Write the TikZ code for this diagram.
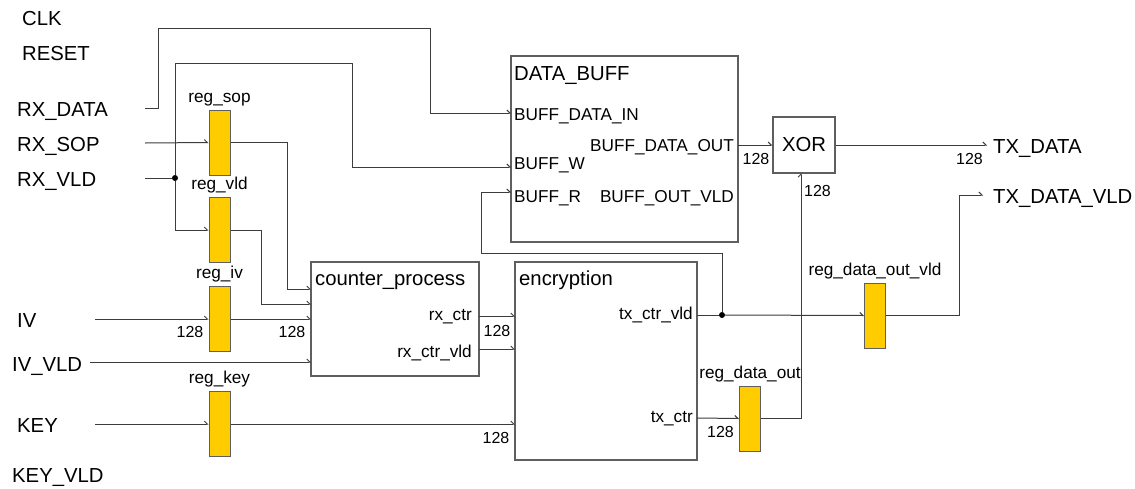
\documentclass[tikz,border=0pt]{standalone}
\usepackage{fontspec}
\setmainfont{Liberation Sans}
\usetikzlibrary{arrows.meta}
\definecolor{regy}{HTML}{FFCC00}
\definecolor{frame}{HTML}{5F5F5F}
\definecolor{wire}{HTML}{3C3C3C}

\begin{document}
\begin{tikzpicture}[x=1pt,y=-1pt,
    sig/.style={font=\fontsize{20.3}{24}\selectfont, inner sep=0pt, anchor=base west},
    port/.style={font=\fontsize{17.2}{20}\selectfont, inner sep=0pt},
    bus/.style={font=\fontsize{16}{19}\selectfont, inner sep=0pt, anchor=base},
    blk/.style={draw=frame, line width=1.2pt, fill=white, inner sep=0pt},
    reg/.style={draw=frame, fill=regy, line width=1pt, minimum width=21pt,
                minimum height=65pt, inner sep=0pt},
    con/.style={draw=wire, line width=1pt, -{Straight Barb[left,length=3pt,width=6pt]}},
    net/.style={draw=wire, line width=1pt},
    dot/.style={circle, fill=black, inner sep=0pt, minimum size=6pt}]
  \useasboundingbox (0,0) rectangle (1135,488);

  % signal names
  \foreach \n/\t/\x/\y in {clk/CLK/22/25, rst/RESET/22/60, rxd/RX\_DATA/17/116,
                            sop/RX\_SOP/17/151, vld/RX\_VLD/17/186, iv/IV/17/327,
                            ivv/IV\_VLD/12/371, key/KEY/17/432, keyv/KEY\_VLD/12/482,
                            txd/TX\_DATA/993/153, txv/TX\_DATA\_VLD/993/203}
    \node[sig] (\n) at (\x,\y) {\t};

  % blocks
  \node[blk, minimum width=227pt, minimum height=186pt] (buff) at (624.5,149) {};
  \node[blk, minimum width=62pt, minimum height=56pt,
        font=\fontsize{20.3}{24}\selectfont] (xor) at (804,145) {XOR};
  \node[blk, minimum width=168pt, minimum height=114pt] (cnt) at (395,319) {};
  \node[blk, minimum width=182pt, minimum height=198pt] (enc) at (606,361) {};
  \node[sig] (buff-t) at (514,80) {DATA\_BUFF};
  \node[sig] (cnt-t) at (315,285) {counter\_process};
  \node[sig] (enc-t) at (519,285) {encryption};

  % port names
  \node[port, anchor=base west] (p-din) at (514,120) {BUFF\_DATA\_IN};
  \node[port, anchor=base west] (p-w) at (514,169) {BUFF\_W};
  \node[port, anchor=base west] (p-r) at (514,202) {BUFF\_R};
  \node[port, anchor=base east] (p-dout) at (734,151) {BUFF\_DATA\_OUT};
  \node[port, anchor=base east] (p-ovld) at (734,202) {BUFF\_OUT\_VLD};
  \node[port, anchor=base east] (p-ctr) at (472,320) {rx\_ctr};
  \node[port, anchor=base east] (p-ctrv) at (472,357) {rx\_ctr\_vld};
  \node[port, anchor=base east] (p-txv) at (693,319) {tx\_ctr\_vld};
  \node[port, anchor=base east] (p-tx) at (693,422) {tx\_ctr};

  % registers
  \foreach \r/\t/\x/\y in {rsop/reg\_sop/219.5/142.5, rvld/reg\_vld/219.5/230,
                            riv/reg\_iv/219.5/319, rkey/reg\_key/219.5/424,
                            rdo/reg\_data\_out/750/418.5, rdov/reg\_data\_out\_vld/875/315.5}
  { \node[reg] (\r) at (\x,\y) {};
    \node[port, anchor=base] (\r-t) at ([yshift=7.5pt]\r.north) {\t}; }

  % bus widths
  \foreach \x/\y [count=\i] in {190/337.5, 292/337, 497/336, 496/443,
                                 720.5/437, 756/164, 817.5/196, 969.5/164}
    \node[bus] (w\i) at (\x,\y) {128};

  % wire ends
  \coordinate (rxd-w) at (145,108);
  \coordinate (sop-w) at (145,143);
  \coordinate (vld-w) at (145,178);
  \coordinate (iv-w) at (95,319);
  \coordinate (ivv-w) at (90,362);
  \coordinate (key-w) at (95,424);
  \coordinate (b-din) at (511,113);
  \coordinate (b-w) at (511,167);
  \coordinate (b-r) at (511,192);
  \coordinate (b-out) at (738,145);
  \coordinate (c-sop) at (311,289);
  \coordinate (c-vld) at (311,304);
  \coordinate (c-iv) at (311,319);
  \coordinate (c-ivv) at (311,362);
  \coordinate (c-ctr) at (479,316);
  \coordinate (c-ctrv) at (479,349);
  \coordinate (e-ctr) at (515,316);
  \coordinate (e-ctrv) at (515,349);
  \coordinate (e-key) at (515,424);
  \coordinate (e-txv) at (697,315);
  \coordinate (e-tx) at (697,418);
  \coordinate (x-in) at (801,173);
  \coordinate (txd-w) at (987,145);
  \coordinate (txv-w) at (983,195);
  \node[dot] (j1) at (175,178) {};
  \node[dot] (j2) at (722,315) {};

  % wires
  \draw[con] (rxd-w) -- (158,108) -- (158,28) -- (430,28) -- (430,113) -- (b-din);
  \draw[net] (vld-w) -- (j1);
  \draw[con] (j1) -- (175,63) -- (352,63) -- (352,167) -- (b-w);
  \draw[con] (j1) |- (rvld.west);
  \draw[con] (sop-w) -- (rsop.west);
  \draw[con] (rsop.east) -- (287,142.5) -- (287,289) -- (c-sop);
  \draw[con] (rvld.east) -- (261,230) -- (261,304) -- (c-vld);
  \draw[con] (iv-w) -- (riv.west);
  \draw[con] (riv.east) -- (c-iv);
  \draw[con] (ivv-w) -- (c-ivv);
  \draw[con] (key-w) -- (rkey.west);
  \draw[con] (rkey.east) -- (e-key);
  \draw[con] (c-ctr) -- (e-ctr);
  \draw[con] (c-ctrv) -- (e-ctrv);
  \draw[net] (e-txv) -- (j2);
  \draw[con] (j2) -- (rdov.west);
  \draw[con] (j2) -- (722,253) -- (481,253) -- (481,192) -- (b-r);
  \draw[con] (rdov.east) -- (959,315.5) -- (959,195) -- (txv-w);
  \draw[con] (e-tx) -- (rdo.west);
  \draw[con] (rdo.east) -- (801,418.5) -- (x-in);
  \draw[con] (b-out) -- (xor.west);
  \draw[con] (xor.east) -- (txd-w);
\end{tikzpicture}
\end{document}
